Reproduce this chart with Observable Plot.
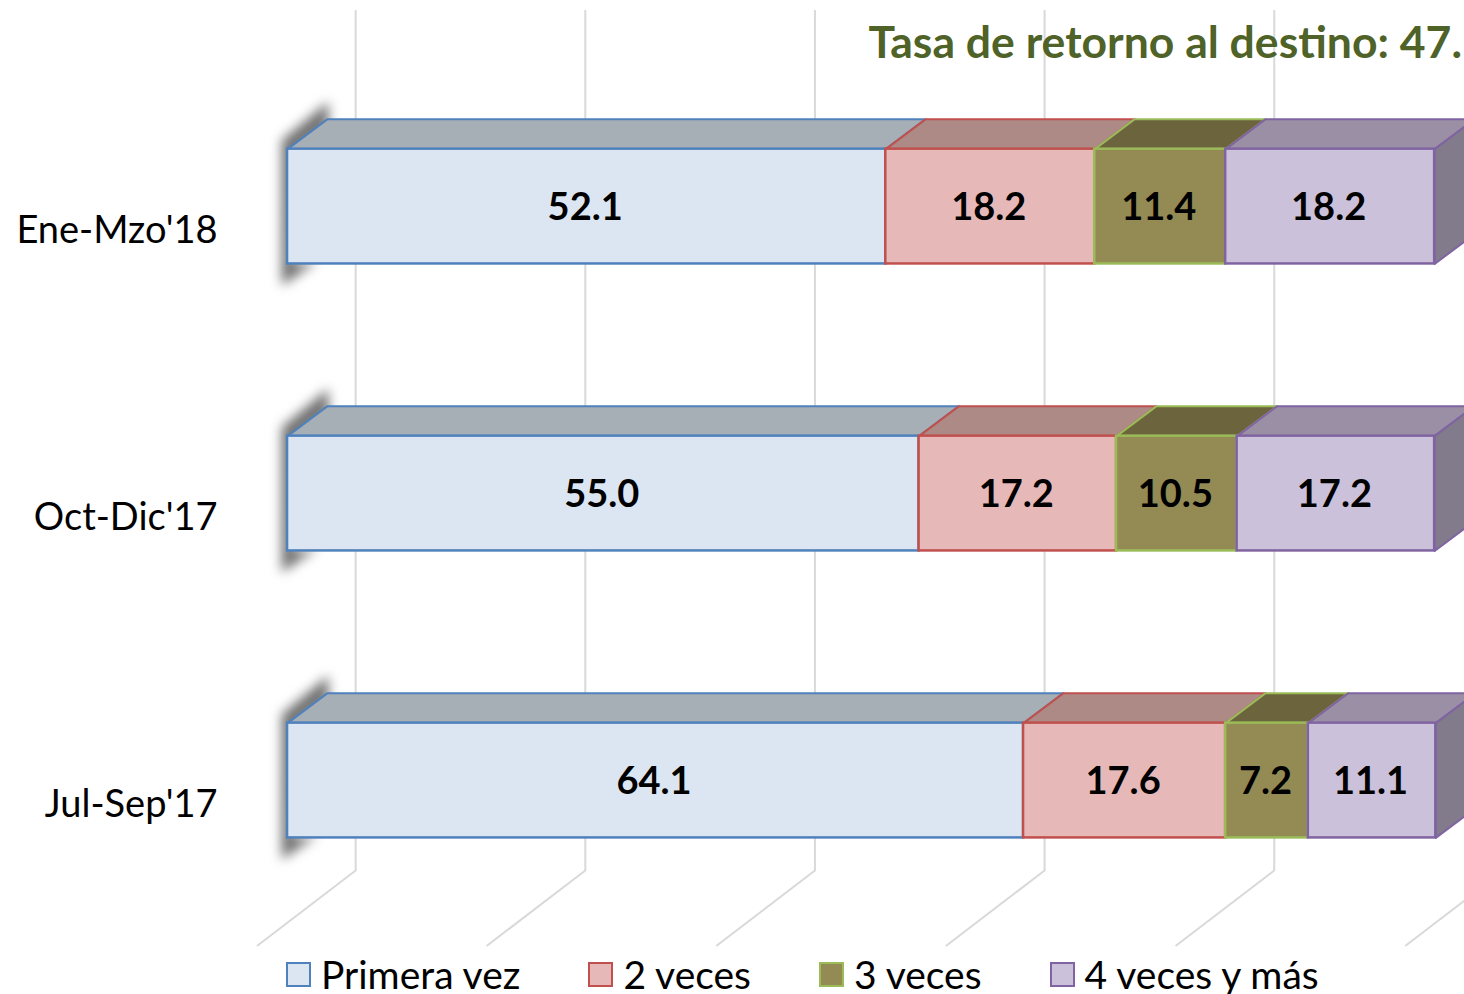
<!DOCTYPE html>
<html lang="es">
<head>
<meta charset="utf-8">
<script src="https://cdn.jsdelivr.net/npm/d3@7"></script>
<script src="https://cdn.jsdelivr.net/npm/@observablehq/plot@0.6"></script>
<style>
html,body{margin:0;padding:0;background:#fff;overflow:hidden;width:1464px;height:994px}
#chart svg{display:block}
#legend{display:flex;gap:68px;height:44px;padding-left:286px;align-items:center;font:39px/1 Lato,sans-serif;color:#000;box-sizing:border-box;width:1464px;white-space:nowrap;position:relative;top:2px}
#legend .item{display:flex;align-items:center;gap:10px}
#legend .sw{width:21px;height:21px;border:2px solid;display:inline-block}
</style>
</head>
<body>
<div id="chart"></div>
<div id="legend"></div>
<script>
const periods = ["Jul-Sep'17", "Oct-Dic'17", "Ene-Mzo'18"];
const seriesNames = ["Primera vez", "2 veces", "3 veces", "4 veces y más"];
const primeraVez = [64.1, 55.0, 52.1];
const dosVeces = [17.6, 17.2, 18.2];
const tresVeces = [7.2, 10.5, 11.4];
const cuatroVeces = [11.1, 17.2, 18.2];
const frontColors = ["#dce6f2", "#e6b9b8", "#948a54", "#ccc1da"];
const topColors = ["#a6aeb6", "#ad8a86", "#6b643d", "#9a8fa5"];
const strokeColors = ["#4f81bd", "#c0504d", "#9bbb59", "#8064a2"];
const sideColor = "#817b8b";
const gridTicks = [0, 20, 40, 60, 80, 100];
const titleText = "Tasa de retorno al destino: 47.";

const allSeries = [primeraVez, dosVeces, tresVeces, cuatroVeces];
const barHalf = 0.2, depthX = 3.48, depthY = 0.1045;
const gridBack = 5.93, gridFront = -2.61, wallTop = 2.683, floorBack = -0.3136, floorFront = -0.5749;

const segments = [];
periods.forEach((p, row) => {
  let acc = 0;
  allSeries.forEach((vals, s) => {
    segments.push({row, s, v: vals[row], x1: acc, x2: acc + vals[row], id: row + "-" + s});
    acc += vals[row];
  });
});
const poly = (f) => segments.flatMap(f);
const topFaces = poly(d => [
  [d.x1, d.row + barHalf], [d.x2, d.row + barHalf],
  [d.x2 + depthX, d.row + barHalf + depthY], [d.x1 + depthX, d.row + barHalf + depthY]
].map(([x, y]) => ({x, y, id: d.id, fill: topColors[d.s], stroke: strokeColors[d.s]})));
const sideFaces = segments.filter(d => d.s === 3).flatMap(d => [
  [d.x2, d.row + barHalf], [d.x2 + depthX, d.row + barHalf + depthY],
  [d.x2 + depthX, d.row - barHalf + depthY], [d.x2, d.row - barHalf]
].map(([x, y]) => ({x, y, id: d.id})));
const shadows = periods.flatMap((p, row) => [
  [-0.5, row + barHalf + 0.03], [3.55, row + barHalf + 0.165], [3.55, row + barHalf + 0.08],
  [1, row + barHalf], [0.5, row - barHalf], [2.6, row - barHalf + 0.01], [-0.5, row - barHalf - 0.075]
].map(([x, y]) => ({x, y, id: row})));
const floorLines = gridTicks.flatMap(t => [
  {x: t + gridBack, y: floorBack, id: t}, {x: t + gridFront, y: floorFront, id: t}
]);

const plot = Plot.plot({
  width: 1464, height: 950,
  marginLeft: 0, marginRight: 0, marginTop: 0, marginBottom: 0,
  x: {domain: [-25, 102.5], range: [0, 1464], axis: null},
  y: {domain: [-0.5923, 2.718], range: [950, 0], axis: null},
  color: {type: "identity"},
  style: {background: "transparent", fontFamily: "Lato, sans-serif"},
  marks: [
    Plot.ruleX(gridTicks, {x: d => d + gridBack, y1: floorBack, y2: wallTop, stroke: "#d9d9d9", strokeWidth: 2}),
    Plot.line(floorLines, {x: "x", y: "y", z: "id", stroke: "#d9d9d9", strokeWidth: 2}),
    Plot.line(shadows, {x: "x", y: "y", z: "id", fill: "#555555", curve: "linear-closed", imageFilter: "blur(6px)", fillOpacity: 0.85}),
    Plot.line(topFaces, {x: "x", y: "y", z: "id", fill: "fill", stroke: "stroke", strokeWidth: 2, curve: "linear-closed"}),
    Plot.line(sideFaces, {x: "x", y: "y", z: "id", fill: sideColor, stroke: strokeColors[3], strokeWidth: 2, curve: "linear-closed"}),
    Plot.rect(segments, {x1: "x1", x2: "x2", y1: d => d.row - barHalf, y2: d => d.row + barHalf, fill: d => frontColors[d.s], stroke: d => strokeColors[d.s], strokeWidth: 2.5}),
    Plot.text(segments, {x: d => (d.x1 + d.x2) / 2, y: "row", dx: -1.5, dy: 1, text: d => d.v.toFixed(1), fontSize: 38, fontWeight: 700, fill: "#000"}),
    Plot.axisY({ticks: [0, 1, 2], tickFormat: i => periods[i], tickSize: 0, tickPadding: -217, dy: 24, fontSize: 38, label: null, fill: "#000"}),
    Plot.text([titleText], {frameAnchor: "top-left", dx: 868, dy: 26, text: d => d, textAnchor: "start", lineAnchor: "top", fontSize: 44.5, fontWeight: 700, fill: "#4f6228"})
  ]
});
document.getElementById("chart").append(plot);

const legend = d3.select("#legend");
seriesNames.forEach((name, i) => {
  const item = legend.append("div").attr("class", "item");
  item.append("span").attr("class", "sw").style("background", frontColors[i]).style("border-color", strokeColors[i]);
  item.append("span").text(name);
});
</script>
</body>
</html>
